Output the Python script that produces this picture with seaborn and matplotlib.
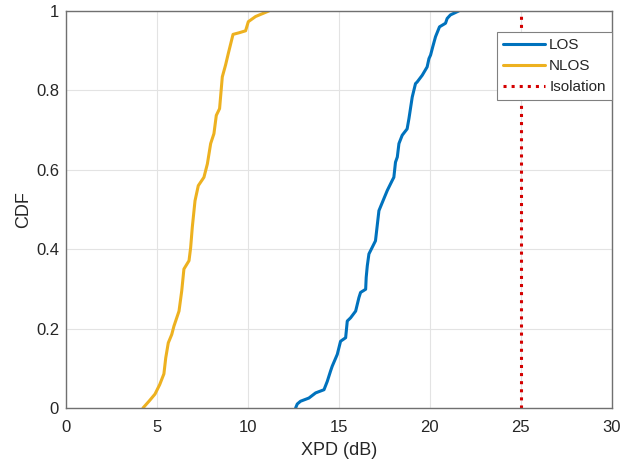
import numpy as np
import pandas as pd
import seaborn as sns
import matplotlib.pyplot as plt

los_xpd = [12.62, 12.71, 12.89, 13.35, 13.72, 14.18, 14.36, 14.54, 14.63, 14.91, 15.09,
           15.37, 15.46, 15.64, 15.92, 16.10, 16.19, 16.47, 16.50, 16.56, 16.65, 17.01,
           17.20, 17.47, 17.66, 17.93, 18.02, 18.11, 18.21, 18.30, 18.48, 18.75, 18.85,
           19.03, 19.21, 19.30, 19.58, 19.85, 19.95, 20.04, 20.16, 20.31, 20.53, 20.86,
           20.95, 21.13, 21.59]
los_cdf = [0.0, 0.010, 0.017, 0.025, 0.038, 0.046, 0.067, 0.093, 0.105, 0.135, 0.168,
           0.177, 0.219, 0.227, 0.244, 0.278, 0.291, 0.299, 0.329, 0.358, 0.388, 0.421,
           0.497, 0.527, 0.548, 0.573, 0.581, 0.619, 0.632, 0.666, 0.687, 0.703, 0.729,
           0.783, 0.817, 0.821, 0.838, 0.859, 0.880, 0.889, 0.910, 0.935, 0.960, 0.969,
           0.981, 0.990, 1.0]

nlos_xpd = [4.23, 4.56, 4.89, 5.15, 5.38, 5.48, 5.62, 5.81, 5.93, 6.21, 6.36, 6.48,
            6.76, 6.85, 6.94, 7.09, 7.27, 7.58, 7.77, 7.95, 8.13, 8.26, 8.44, 8.59,
            8.77, 8.92, 9.18, 9.51, 9.87, 10.02, 10.42, 11.15]
nlos_cdf = [0.0, 0.017, 0.035, 0.059, 0.086, 0.126, 0.164, 0.185, 0.206, 0.244, 0.295,
            0.350, 0.371, 0.404, 0.455, 0.522, 0.560, 0.581, 0.615, 0.666, 0.691, 0.737,
            0.754, 0.834, 0.864, 0.893, 0.941, 0.945, 0.950, 0.973, 0.986, 1.0]

isolation_db = 25

sns.set_style("whitegrid")
plt.rcParams['font.family'] = ['Liberation Sans', 'DejaVu Sans']

df = pd.concat([
    pd.DataFrame({'XPD': los_xpd, 'CDF': los_cdf, 'case': 'LOS'}),
    pd.DataFrame({'XPD': nlos_xpd, 'CDF': nlos_cdf, 'case': 'NLOS'}),
])

fig = plt.figure(figsize=(6.23, 4.66), dpi=100)
ax = fig.add_axes([0.106, 0.1245, 0.876, 0.852])

sns.lineplot(data=df, x='XPD', y='CDF', hue='case', palette=['#0072BD', '#EDB120'],
             sort=False, estimator=None, linewidth=2.2, ax=ax)
ax.axvline(isolation_db, color='#D40000', linestyle=':', linewidth=2.2, label='Isolation')

ax.set_xlim(0, 30)
ax.set_ylim(0, 1)
ax.set_xticks(np.arange(0, 31, 5))
ax.set_yticks(np.arange(0, 1.01, 0.2))
ax.set_yticklabels(['0', '0.2', '0.4', '0.6', '0.8', '1'])
ax.set_xlabel('XPD (dB)', fontsize=13, labelpad=5)
ax.set_ylabel('CDF', fontsize=13, labelpad=3)
ax.tick_params(labelsize=12, direction='in', length=4, color='#606060', labelcolor='#262626')
ax.tick_params(axis='x', pad=9)
ax.tick_params(axis='y', pad=5)
ax.grid(True, color='#E3E3E3', linewidth=0.8)
for s in ax.spines.values():
    s.set_color('#707070')
    s.set_linewidth(1)

leg = ax.legend(loc='upper right', bbox_to_anchor=(1.0, 0.947), fontsize=11,
                frameon=True, fancybox=False, handlelength=2.7, handletextpad=0.3,
                borderpad=0.4, labelspacing=0.45, borderaxespad=0)
leg.get_frame().set_edgecolor('#808080')
leg.get_frame().set_linewidth(0.8)
leg.get_frame().set_alpha(1)

fig.savefig('out.png', dpi=100)
